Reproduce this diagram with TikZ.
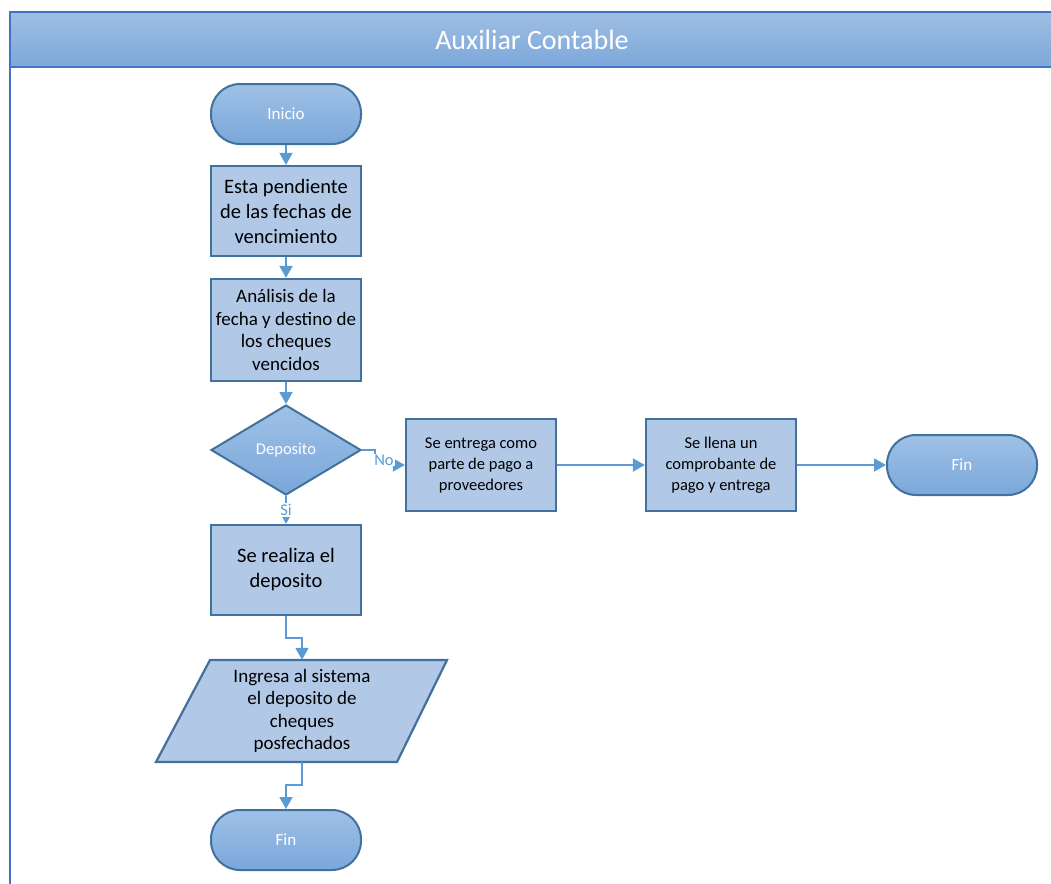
\documentclass[tikz,border=0pt]{standalone}
\usepackage{fontspec}
\setmainfont{Carlito}
\usetikzlibrary{arrows.meta,shapes.geometric}

\definecolor{headtop}{HTML}{9EBEE3}
\definecolor{headbot}{HTML}{7DA8DA}
\definecolor{poolline}{HTML}{4472C4}
\definecolor{termtop}{HTML}{9FC1E6}
\definecolor{termbot}{HTML}{7AA7DA}
\definecolor{shapeline}{HTML}{41719C}
\definecolor{boxfill}{HTML}{B1C8E7}
\definecolor{connblue}{HTML}{5B9BD5}

\begin{document}
\begin{tikzpicture}[x=1pt,y=-1pt,
  poolframe/.style={draw=poolline,line width=2.2pt},
  terminal/.style={draw=shapeline,line width=2pt,top color=termtop,bottom color=termbot,
    rounded corners=29pt,minimum width=150pt,minimum height=60pt,inner sep=0pt,
    text=white,font=\fontsize{17}{20}\selectfont},
  process/.style={draw=shapeline,line width=2.2pt,fill=boxfill,minimum width=150pt,
    inner sep=0pt,align=center,text=black},
  decision/.style={diamond,draw=shapeline,line width=2pt,top color=termtop,bottom color=termbot,
    minimum width=150pt,minimum height=90pt,inner sep=0pt,aspect=1.667,
    text=white,font=\fontsize{16.5}{19}\selectfont},
  conn/.style={draw=connblue,line width=1.8pt,-{Triangle[length=12pt,width=13pt]}},
  lbl/.style={text=connblue,font=\fontsize{16.5}{19}\selectfont,inner sep=1pt,fill=white}
]
\useasboundingbox (0,0) rectangle (1051,883);

% swimlane header and left border
\path[top color=headtop,bottom color=headbot] (10,12) rectangle (1060,67);
\draw[poolframe] (10,895) -- (10,12) -- (1060,12);
\draw[poolframe] (10,67) -- (1060,67);
\node[text=white,font=\fontsize{28}{32}\selectfont] (title) at (532,40) {Auxiliar Contable};

% main column
\node[terminal] (inicio) at (286,114) {Inicio};
\node[process,minimum height=90pt,font=\fontsize{20.5}{25}\selectfont] (b1) at (286,211)
  {Esta pendiente\\de las fechas de\\vencimiento};
\node[process,minimum height=102pt,font=\fontsize{19}{22.6}\selectfont] (b2) at (286,330)
  {Análisis de la\\fecha y destino de\\los cheques\\vencidos};
\node[decision] (dep) at (286,450) {Deposito};
\node[process,minimum height=90pt,font=\fontsize{20.5}{25}\selectfont] (b5) at (286,570)
  {Se realiza el\\deposito};

% data (input/output) shape
\draw[draw=shapeline,line width=2.2pt,fill=boxfill]
  (210,660) -- (447,660) -- (397,762) -- (156,762) -- cycle;
\node[minimum width=190pt,minimum height=102pt,inner sep=0pt,align=center,
  font=\fontsize{19}{22.5}\selectfont] (par) at (302,711)
  {Ingresa al sistema\\el deposito de\\cheques\\posfechados};

\node[terminal] (fin2) at (286,840) {Fin};

% right branch
\node[process,minimum height=92pt,font=\fontsize{16.5}{21}\selectfont] (b3) at (481,465)
  {Se entrega como\\parte de pago a\\proveedores};
\node[process,minimum height=92pt,font=\fontsize{16.5}{21}\selectfont] (b4) at (721,465)
  {Se llena un\\comprobante de\\pago y entrega};
\node[terminal] (fin1) at (962,465) {Fin};

% connectors
\draw[conn] (inicio) -- (b1);
\draw[conn] (b1) -- (b2);
\draw[conn] (b2) -- (dep);
\draw[conn] (dep.east) -- ++(13,0) |- (b3.west);
\node[lbl] (no) at (384,460) {No};
\draw[conn] (dep.south) -- (b5.north);
\node[lbl] (si) at (286,510) {Si};
\draw[conn] (b3) -- (b4);
\draw[conn] (b4) -- (fin1);
\draw[conn] (b5.south) -- ++(0,22) -| (par.north);
\draw[conn] (par.south) -- ++(0,23) -| (fin2.north);
\end{tikzpicture}
\end{document}
